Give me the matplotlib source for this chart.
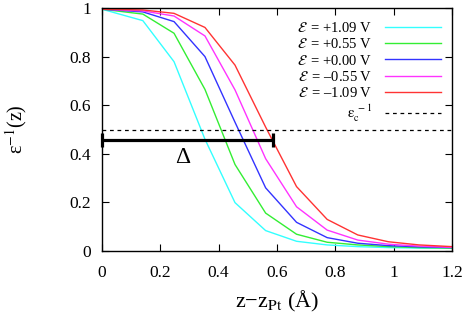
import matplotlib
matplotlib.use("Agg")
import matplotlib.pyplot as plt

plt.rcParams['font.family'] = ['Liberation Serif', 'DejaVu Serif']
plt.rcParams['mathtext.fontset'] = 'stix'

# data
z = [0.0, 0.140, 0.247, 0.353, 0.456, 0.561, 0.667, 0.772, 0.877, 0.982, 1.087, 1.200]
eps_p109 = [0.995, 0.948, 0.779, 0.460, 0.199, 0.084, 0.040, 0.025, 0.018, 0.014, 0.012, 0.011]
eps_p055 = [0.995, 0.975, 0.896, 0.665, 0.356, 0.156, 0.069, 0.036, 0.025, 0.018, 0.014, 0.012]
eps_p000 = [0.995, 0.984, 0.944, 0.800, 0.530, 0.260, 0.118, 0.055, 0.032, 0.022, 0.017, 0.014]
eps_m055 = [0.995, 0.988, 0.967, 0.885, 0.663, 0.380, 0.182, 0.086, 0.045, 0.028, 0.020, 0.015]
eps_m109 = [0.995, 0.992, 0.978, 0.920, 0.765, 0.510, 0.265, 0.130, 0.066, 0.038, 0.025, 0.018]
series = [eps_p109, eps_p055, eps_p000, eps_m055, eps_m109]
labels = [r'$\mathcal{E}\,$ = +1.09 V', r'$\mathcal{E}\,$ = +0.55 V', r'$\mathcal{E}\,$ = +0.00 V',
          r'$\mathcal{E}\,$ = –0.55 V', r'$\mathcal{E}\,$ = –1.09 V']
colors = ['#33ffff', '#33ee33', '#3333ff', '#ff33ff', '#ff3333']
eps_c_inv = 0.5
delta_start, delta_end, delta_y = 0.0, 0.585, 0.457
delta_label_pos = (0.277, 0.385)
xticks = [0, 0.2, 0.4, 0.6, 0.8, 1.0, 1.2]
xticklabels = ['0', '0.2', '0.4', '0.6', '0.8', '1', '1.2']
yticks = [0, 0.2, 0.4, 0.6, 0.8, 1.0]
yticklabels = ['0', '0.2', '0.4', '0.6', '0.8', '1']

fig = plt.figure(figsize=(4.69, 3.19), dpi=100)
ax = fig.add_axes([102/469, 1-251/319, 350/469, 243/319])

for ys, lab, c in zip(series, labels, colors):
    ax.plot(z, ys, color=c, lw=1.0, label=lab)
ax.axhline(eps_c_inv, color='black', lw=0.9, ls=(0, (3, 3)),
           label=r'$\mathrm{\epsilon}_{\mathrm{c}}^{\ -1}$')

ax.plot([delta_start, delta_end], [delta_y, delta_y], color='black', lw=2.3,
        solid_capstyle='butt', clip_on=False)
ax.plot([delta_start, delta_end], [delta_y, delta_y], ls='none', marker='|',
        ms=10.5, mew=2.3, color='black', clip_on=False)
ax.text(delta_label_pos[0], delta_label_pos[1], 'Δ', fontsize=17, ha='center', va='center')

ax.set_xlim(0, 1.2)
ax.set_ylim(0, 1)
ax.set_xticks(xticks)
ax.set_xticklabels(xticklabels)
ax.set_yticks(yticks)
ax.set_yticklabels(yticklabels)
ax.tick_params(direction='in', top=True, right=True, length=5, width=0.8,
               labelsize=12.5)
ax.tick_params(axis='x', pad=10)
ax.tick_params(axis='y', pad=8)
for s in ax.spines.values():
    s.set_linewidth(1.0)

ax.set_xlabel('z−z$_{\\mathrm{Pt}}$ (Å)', fontsize=16, labelpad=6)
ax.set_ylabel('ε$^{-1}$(z)', fontsize=14.5, labelpad=29)

leg = ax.legend(loc='upper right', bbox_to_anchor=(0.985, 0.971), frameon=False,
                markerfirst=False, fontsize=10.5, handlelength=3.85, labelspacing=0.16,
                handletextpad=0.85, borderaxespad=0.0)

fig.savefig('out.png', dpi=100)
